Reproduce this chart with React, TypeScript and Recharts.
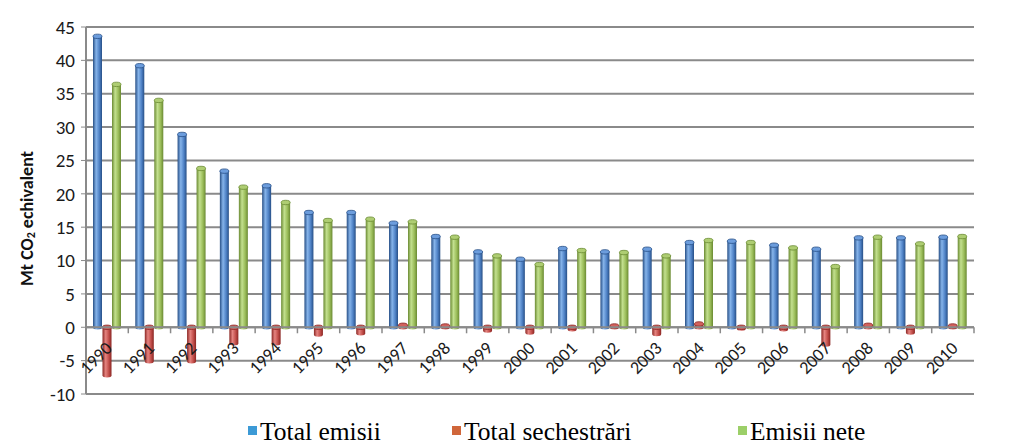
import { BarChart, Bar, XAxis, YAxis, CartesianGrid, ReferenceLine } from "recharts";

// Emisii GES 1990–2010, Mt CO2 echivalent
const ani = ["1990", "1991", "1992", "1993", "1994", "1995", "1996", "1997", "1998", "1999", "2000", "2001", "2002", "2003", "2004", "2005", "2006", "2007", "2008", "2009", "2010"];
const totalEmisii = [43.6, 39.2, 28.9, 23.4, 21.2, 17.2, 17.2, 15.6, 13.6, 11.3, 10.2, 11.8, 11.3, 11.7, 12.7, 12.9, 12.3, 11.7, 13.4, 13.4, 13.5];
const totalSechestrari = [-7.2, -5.1, -5.1, -2.4, -2.4, -1.1, -0.9, 0.3, 0.2, -0.5, -0.8, -0.3, 0.2, -1.0, 0.5, -0.2, -0.3, -2.6, 0.3, -0.8, 0.2];
const emisiiNete = [36.4, 34.0, 23.8, 21.0, 18.7, 16.0, 16.2, 15.8, 13.5, 10.7, 9.4, 11.5, 11.2, 10.7, 13.0, 12.7, 11.9, 9.1, 13.5, 12.5, 13.6];
const yTicks = [-10, -5, 0, 5, 10, 15, 20, 25, 30, 35, 40, 45];

const data = ani.map((an, i) => ({
  an,
  emisii: totalEmisii[i],
  sechestrari: totalSechestrari[i],
  nete: emisiiNete[i],
}));

const W = 1009;
const H = 446;
const M = { top: 27, right: 35, bottom: 0, left: 0 };
const Y_AXIS_W = 86;
const X_AXIS_H = 52;
const PLOT_H = H - M.top - X_AXIS_H;
const PLOT_W = W - M.left - M.right - Y_AXIS_W;
const ZERO_Y = M.top + (45 / 55) * PLOT_H;
const STEP = PLOT_W / ani.length;

const FONT = "Carlito, Calibri, Lato, sans-serif";
const SERIF = "'Liberation Serif', 'DejaVu Serif', 'Times New Roman', Times, serif";
const GRID = "#8a8a8a";

const culori = {
  albastru: { dark: "#274f86", light: "#86b4ea", mid: "#4f82c6", cap: "#6c9ddd" },
  rosu: { dark: "#8a2623", light: "#e58480", mid: "#c24e4a", cap: "#d2625e" },
  verde: { dark: "#6a8a32", light: "#c3e08f", mid: "#9bbd5a", cap: "#aecd72" },
};

type Culoare = { dark: string; light: string; mid: string; cap: string };

function cilindru(id: string, c: Culoare) {
  return (props: any) => {
    const { x, y, width, height } = props;
    if (width == null || y == null) return <g />;
    const top = Math.min(y, y + height);
    const h = Math.abs(height);
    const rx = width / 2;
    const ry = 2.2;
    const cx = x + rx;
    const body = `M${x},${top} L${x},${top + h} A${rx},${ry} 0 0 0 ${x + width},${top + h} L${x + width},${top} Z`;
    return (
      <g>
        <path d={body} fill={`url(#${id})`} />
        <ellipse cx={cx} cy={top} rx={rx} ry={ry} fill={c.cap} stroke={c.dark} strokeWidth={0.8} />
      </g>
    );
  };
}

function TickAn(props: any) {
  const { x, payload, index } = props;
  const tx = x + 6;
  const ty = ZERO_Y + 22;
  const left = x - STEP / 2;
  return (
    <g>
      <line x1={left} y1={ZERO_Y} x2={left} y2={ZERO_Y + 6} stroke={GRID} strokeWidth={1.5} />
      {index === ani.length - 1 && (
        <line x1={left + STEP} y1={ZERO_Y} x2={left + STEP} y2={ZERO_Y + 6} stroke={GRID} strokeWidth={1.5} />
      )}
      <text
        x={tx}
        y={ty}
        textAnchor="end"
        transform={`rotate(-45, ${tx}, ${ty})`}
        fontSize={18}
        fontFamily={FONT}
        fill="#1a1a1a"
      >
        {payload.value}
      </text>
    </g>
  );
}

function TitluY(props: any) {
  const vb = props.viewBox ?? { x: 0, y: M.top, width: Y_AXIS_W, height: PLOT_H };
  const cx = 27;
  const cy = vb.y + vb.height / 2 + 8;
  return (
    <text
      x={cx}
      y={cy}
      transform={`rotate(-90, ${cx}, ${cy})`}
      textAnchor="middle"
      dominantBaseline="central"
      fontSize={18}
      fontWeight="bold"
      fontFamily={FONT}
      fill="#111"
    >
      Mt CO
      <tspan dy={4} fontSize={12}>
        2
      </tspan>
      <tspan dy={-4}> echivalent</tspan>
    </text>
  );
}

const legenda = [
  { nume: "Total emisii", culoare: "#3c9ad6", left: 248 },
  { nume: "Total sechestrări", culoare: "#d0663a", left: 452 },
  { nume: "Emisii nete", culoare: "#9ccf68", left: 738 },
];

export default function App() {
  return (
    <div style={{ position: "absolute", left: 0, top: 0, width: W, height: H, background: "#fff" }}>
      <BarChart width={W} height={H} data={data} margin={M} barSize={9} barGap={0.5}>
        <defs>
          {(
            [
              ["gAlbastru", culori.albastru],
              ["gRosu", culori.rosu],
              ["gVerde", culori.verde],
            ] as [string, Culoare][]
          ).map(([id, c]) => (
            <linearGradient key={id} id={id} x1="0" y1="0" x2="1" y2="0">
              <stop offset="0%" stopColor={c.dark} />
              <stop offset="35%" stopColor={c.light} />
              <stop offset="70%" stopColor={c.mid} />
              <stop offset="100%" stopColor={c.dark} />
            </linearGradient>
          ))}
        </defs>
        <CartesianGrid vertical={false} stroke={GRID} strokeWidth={2} />
        <XAxis
          dataKey="an"
          height={X_AXIS_H}
          interval={0}
          tickLine={false}
          axisLine={{ stroke: GRID, strokeWidth: 2 }}
          tick={<TickAn />}
        />
        <YAxis
          domain={[-10, 45]}
          ticks={yTicks}
          width={Y_AXIS_W}
          tick={{ fontSize: 19, fontFamily: FONT, fill: "#1a1a1a" }}
          tickLine={{ stroke: GRID }}
          tickSize={5}
          tickMargin={6}
          axisLine={{ stroke: GRID, strokeWidth: 2 }}
          label={<TitluY />}
        />
        <ReferenceLine y={0} stroke={GRID} strokeWidth={2} />
        <Bar dataKey="emisii" name="Total emisii" shape={cilindru("gAlbastru", culori.albastru)} isAnimationActive={false} />
        <Bar dataKey="sechestrari" name="Total sechestrări" shape={cilindru("gRosu", culori.rosu)} isAnimationActive={false} />
        <Bar dataKey="nete" name="Emisii nete" shape={cilindru("gVerde", culori.verde)} isAnimationActive={false} />
        {legenda.map((l) => (
          <g key={l.nume}>
            <rect x={l.left} y={426} width={9} height={9} fill={l.culoare} />
            <text x={l.left + 12} y={440} fontFamily={SERIF} fontSize={25.5} fill="#000">
              {l.nume}
            </text>
          </g>
        ))}
      </BarChart>
    </div>
  );
}
